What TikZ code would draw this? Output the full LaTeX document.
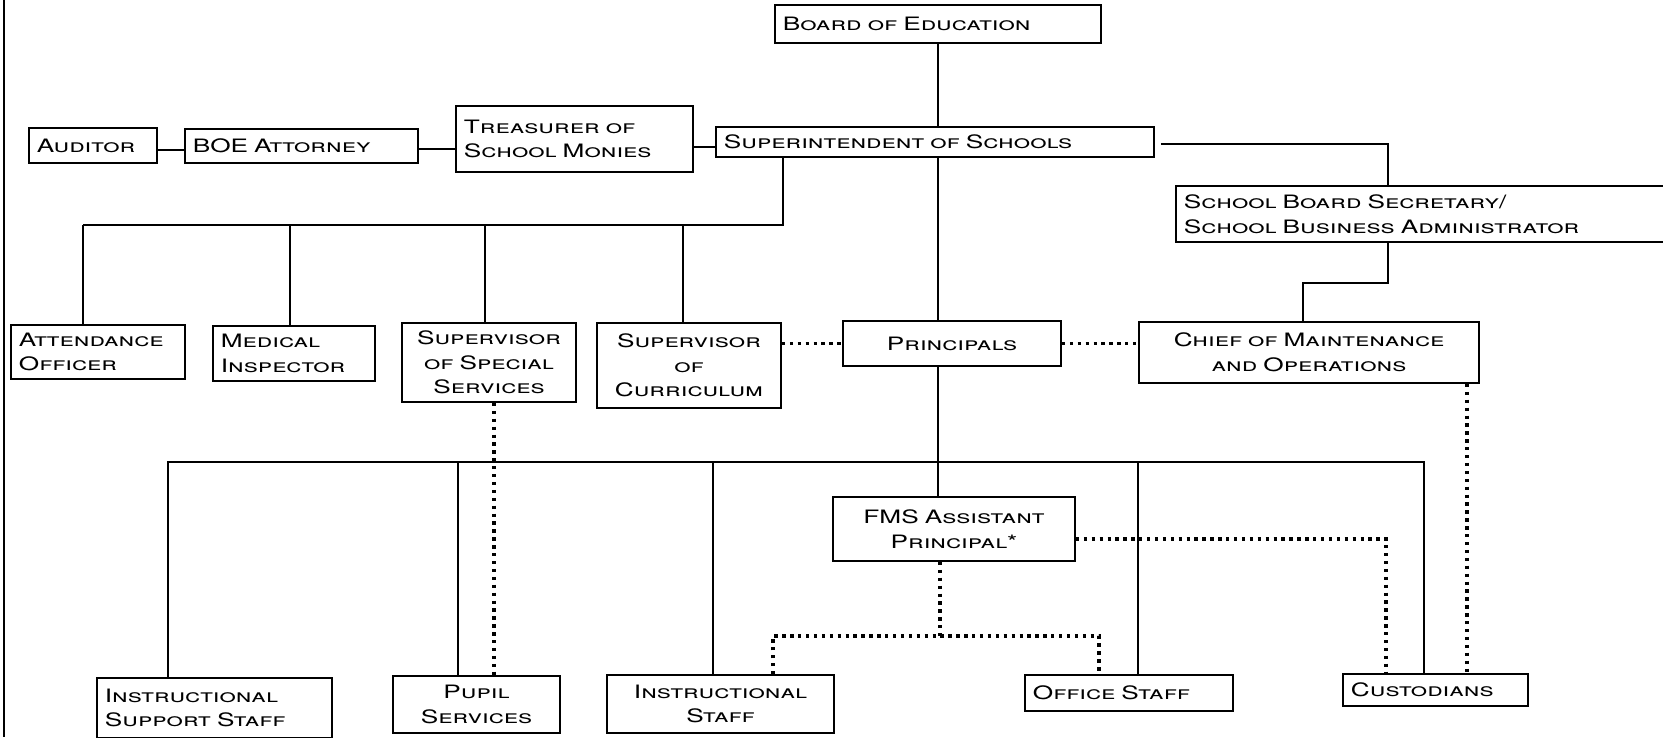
\documentclass[tikz,border=0pt]{standalone}
\usepackage{fontspec}
\setmainfont{TeX Gyre Heros}[FakeStretch=1.42, WordSpace=2.2]
\usepackage{tikz}
\tikzset{
  every picture/.style={font={\fontsize{10.5}{14}\selectfont\scshape}},
  orgbox/.style 2 args={draw, line width=1pt, inner xsep=4pt, inner ysep=1pt,
    minimum width=#1*0.02cm, minimum height=#2*0.02cm,
    text width=#1*0.02cm-9pt, align=left},
  solidline/.style={line width=1.4pt},
  dotline/.style={line width=2pt, dash pattern=on 1.9pt off 2.6pt}}

\begin{document}
\begin{tikzpicture}[x=0.02cm, y=-0.02cm]
    \useasboundingbox (0,0) rectangle (1663,737);
    \draw[line width=1.2pt] (4,0) -- (4,737);

    \node[orgbox={326}{38}] (board) at (938,24) {Board of Education};
    \node[orgbox={128}{35}] (auditor) at (93,145.5) {Auditor};
    \node[orgbox={233}{34}] (attorney) at (301.5,146) {BOE Attorney};
    \node[orgbox={237}{66}] (treasurer) at (574.5,139) {Treasurer of\\School Monies};
    \node[orgbox={438}{30}] (superint) at (935,142) {Superintendent of Schools};
    \node[orgbox={495}{56}] (secretary) at (1423.5,214) {School Board Secretary/\\School Business Administrator};

    \node[orgbox={174}{54}] (attendance) at (98,352) {Attendance\\Officer};
    \node[orgbox={162}{55}] (medical) at (294,353.5) {Medical\\Inspector};
    \node[orgbox={174}{79}, align=center] (special) at (489,362.5) {Supervisor\\of Special\\Services};
    \node[orgbox={184}{85}, align=center] (curriculum) at (689,365.5) {Supervisor\\of\\Curriculum};
    \node[orgbox={218}{45}, align=center] (principals) at (952,343.5) {Principals};
    \node[orgbox={340}{61}, align=center] (chief) at (1309,352.5) {Chief of Maintenance\\and Operations};
    \node[orgbox={242}{64}, align=center] (fms) at (954,529) {FMS Assistant\\Principal*};

    \node[orgbox={235}{60}] (support) at (214.5,708) {Instructional\\Support Staff};
    \node[orgbox={167}{57}, align=center] (pupil) at (476.5,704.5) {Pupil\\Services};
    \node[orgbox={227}{58}, align=center] (staff) at (720.5,704) {Instructional\\Staff};
    \node[orgbox={208}{36}] (office) at (1129,693) {Office Staff};
    \node[orgbox={185}{32}] (custodians) at (1435.5,690) {Custodians};

    \coordinate (spine) at (938,0);
    \coordinate (upbus) at (783,225);
    \coordinate (lowbus) at (168,462);
    \coordinate (secline) at (1388,144);
    \coordinate (chiefstep) at (1303,283);

    \draw[solidline] (board.south) -- (spine |- superint.north);
    \draw[solidline] (auditor.east |- 0,150) -- (attorney.west |- 0,150);
    \draw[solidline] (attorney.east |- 0,149) -- (treasurer.west |- 0,149);
    \draw[solidline] (treasurer.east |- 0,147) -- (superint.west |- 0,147);
    \draw[solidline] (spine |- superint.south) -- (spine |- principals.north);
    \draw[solidline] (spine |- principals.south) -- (spine |- fms.north);

    \draw[solidline] (upbus |- superint.south) -- (upbus) -- (83,225);
    \foreach \n/\x in {attendance/83, medical/290, special/485, curriculum/683} {
      \draw[solidline] (\x,225) -- (\n.north -| \x,0);
    }

    \draw[solidline] ([xshift=0.12cm]superint.east |- secline) -| (secretary.north -| secline);
    \draw[solidline] (secretary.south -| secline) |- (chiefstep) -- (chief.north -| chiefstep);

    \draw[solidline] (support.north -| lowbus) -- (lowbus) -- (1424,462) -- (custodians.north -| 1424,0);
    \foreach \n/\x in {pupil/458, staff/713, office/1138} {
      \draw[solidline] (\x,462) -- (\n.north -| \x,0);
    }

    \draw[dotline] (curriculum.east |- principals.west) -- (principals.west);
    \draw[dotline] (principals.east) -- (principals.east -| chief.west);
    \draw[dotline] (special.south -| 494,0) -- (pupil.north -| 494,0);
    \draw[dotline] (chief.south -| 1467,0) -- (custodians.north -| 1467,0);
    \draw[dotline] (fms.east |- 0,539) -| (custodians.north -| 1386,0);
    \draw[dotline] (fms.south -| 940,0) -- (940,636);
    \draw[dotline] (staff.north -| 773,0) |- (1099,636) -- (office.north -| 1099,0);
  \end{tikzpicture}
\end{document}
